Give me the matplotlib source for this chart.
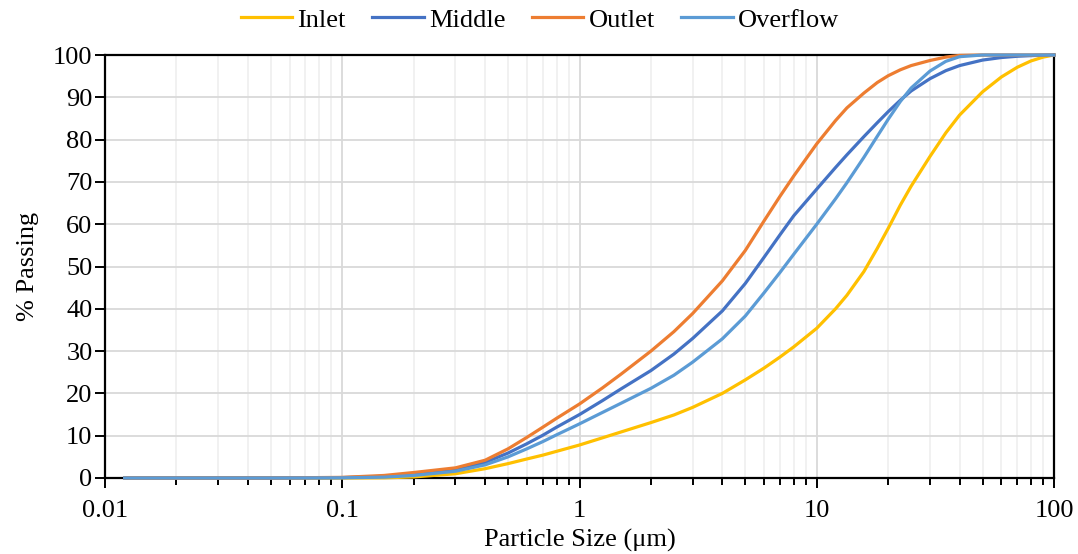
import matplotlib
matplotlib.use("Agg")
import matplotlib.pyplot as plt
from matplotlib.ticker import FixedLocator, LogLocator, NullFormatter, FixedFormatter

plt.rcParams["font.family"] = ["Liberation Serif", "DejaVu Serif"]

# particle size bins (um) shared by all samples
size = [0.0121, 0.05, 0.1, 0.15, 0.2, 0.3, 0.4, 0.5, 0.6, 0.7, 0.8, 1.0,
        1.25, 1.5, 2, 2.5, 3, 4, 5, 6, 7, 8, 10, 12, 13.4, 15.8, 18, 20,
        22.5, 25, 30, 35, 40, 50, 60, 70, 80, 90, 100]

inlet = [0, 0, 0, 0.05, 0.25, 1.0, 2.2, 3.4, 4.5, 5.4, 6.3, 7.8,
         9.5, 10.9, 13.1, 14.9, 16.7, 20.0, 23.2, 26.0, 28.6, 31.0, 35.4, 40.0, 43.2, 48.8, 54.3, 59.0,
         64.5, 69.0, 76.0, 81.6, 85.8, 91.3, 94.8, 97.1, 98.6, 99.5, 100]
middle = [0, 0, 0.1, 0.4, 0.9, 2.0, 3.7, 5.9, 8.1, 10.1, 12.0, 15.0,
          18.3, 21.1, 25.4, 29.3, 33.0, 39.5, 46.0, 52.2, 57.5, 62.0, 68.3, 73.4, 76.4, 80.7, 84.0, 86.6,
          89.3, 91.5, 94.4, 96.3, 97.5, 98.8, 99.4, 99.7, 99.85, 99.95, 100]
outlet = [0, 0, 0.15, 0.6, 1.3, 2.4, 4.2, 6.9, 9.6, 12.0, 14.1, 17.5,
          21.3, 24.6, 30.0, 34.6, 38.9, 46.6, 53.8, 60.8, 66.6, 71.4, 79.0, 84.5, 87.5, 91.0, 93.5, 95.1,
          96.5, 97.5, 98.7, 99.5, 99.9, 100, 100, 100, 100, 100, 100]
overflow = [0, 0, 0.05, 0.2, 0.6, 1.6, 3.1, 5.0, 6.9, 8.6, 10.2, 12.8,
            15.5, 17.7, 21.2, 24.3, 27.4, 32.9, 38.3, 43.8, 48.6, 52.9, 60.0, 66.0, 69.8, 75.8, 80.8, 84.8,
            89.0, 92.2, 96.2, 98.5, 99.6, 100, 100, 100, 100, 100, 100]

fig = plt.figure(figsize=(10.78, 5.54), dpi=100)
ax = fig.add_axes([105 / 1078, 1 - 478 / 554, (1054 - 105) / 1078, (478 - 55) / 554])

ax.plot(size, inlet, color="#FFC000", lw=2.3, label="Inlet", clip_on=False, zorder=3)
ax.plot(size, middle, color="#4472C4", lw=2.3, label="Middle", clip_on=False, zorder=3)
ax.plot(size, outlet, color="#ED7D31", lw=2.3, label="Outlet", clip_on=False, zorder=3)
ax.plot(size, overflow, color="#5B9BD5", lw=2.3, label="Overflow", clip_on=False, zorder=3)

ax.set_xscale("log")
ax.set_xlim(0.01, 100)
ax.set_ylim(0, 100)
ax.xaxis.set_major_locator(FixedLocator([0.01, 0.1, 1, 10, 100]))
ax.xaxis.set_major_formatter(FixedFormatter(["0.01", "0.1", "1", "10", "100"]))
ax.xaxis.set_minor_locator(LogLocator(base=10, subs=range(2, 10)))
ax.xaxis.set_minor_formatter(NullFormatter())
ax.set_yticks(range(0, 101, 10))

ax.grid(which="major", color="#D9D9D9", lw=1.3)
ax.grid(which="minor", axis="x", color="#F0F0F0", lw=1.3)
ax.set_axisbelow(True)

for s in ax.spines.values():
    s.set_linewidth(1.6)
    s.set_color("black")

ax.tick_params(which="major", direction="out", length=7, width=1.4, labelsize=19)
ax.tick_params(which="minor", direction="out", length=5, width=1.4)
ax.tick_params(axis="x", which="major", pad=9)
ax.tick_params(axis="y", which="major", pad=2)
ax.tick_params(axis="y", which="minor", left=False)

ax.set_xlabel("Particle Size (μm)", fontsize=19, labelpad=5)
ax.set_ylabel("% Passing", fontsize=19, labelpad=10)

ax.legend(loc="upper center", bbox_to_anchor=(540 / 1078, 0.99), bbox_transform=fig.transFigure,
          ncol=4, frameon=False, fontsize=19, handlelength=1.95, handletextpad=0.2,
          columnspacing=1.0, borderaxespad=0.0, borderpad=0.1)

fig.savefig("out.png", dpi=100)
